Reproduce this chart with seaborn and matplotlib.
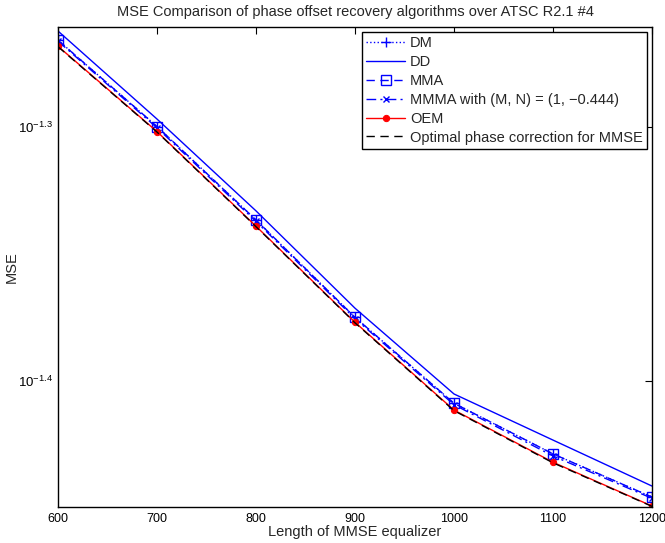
import numpy as np
import pandas as pd
import matplotlib
matplotlib.use("Agg")
import matplotlib.pyplot as plt
import seaborn as sns
from matplotlib.ticker import FixedLocator, FixedFormatter, NullLocator

sns.set_style("white")
plt.rcParams['font.family'] = ['Liberation Sans', 'DejaVu Sans']
plt.rcParams['mathtext.fontset'] = 'custom'
plt.rcParams['mathtext.rm'] = 'Liberation Sans'

lengths = [600, 700, 800, 900, 1000, 1100, 1200]
mse_dm = [0.05422, 0.05014, 0.04607, 0.04218, 0.03902, 0.03727, 0.03584]
mse_dd = [0.05467, 0.05048, 0.04645, 0.04253, 0.03935, 0.03774, 0.03620]
mse_mma = [0.05422, 0.05014, 0.04607, 0.04218, 0.03902, 0.03727, 0.03584]
mse_mmma = [0.05417, 0.05008, 0.04601, 0.04213, 0.03897, 0.03720, 0.03580]
mse_oem = [0.05392, 0.04991, 0.04581, 0.04199, 0.03878, 0.03699, 0.03555]
mse_opt = [0.05390, 0.04989, 0.04579, 0.04197, 0.03876, 0.03697, 0.03554]

labels = ['DM', 'DD', 'MMA', 'MMMA with (M, N) = (1, \u22120.444)', 'OEM',
          'Optimal phase correction for MMSE']

fig = plt.figure(figsize=(6.65, 5.43), dpi=100)
ax = fig.add_axes([58/665, 1-507/543, (652-58)/665, (507-27)/543])

blue = '#0000ff'
series = [
    (mse_dm, dict(color=blue, linestyle=':', marker='+', markersize=7, mec=blue, mew=1.0, lw=1.0)),
    (mse_dd, dict(color=blue, linestyle='-', marker=None, lw=1.0)),
    (mse_mma, dict(color=blue, linestyle=(0, (6, 4)), marker='s', markersize=7, mfc='none', mec=blue, mew=1.0, lw=1.0)),
    (mse_mmma, dict(color=blue, linestyle=(0, (7, 3, 1.5, 3)), marker='x', markersize=4, mec=blue, mew=1.0, lw=1.0)),
    (mse_oem, dict(color='red', linestyle='-', marker='o', markersize=4.5, mec='red', mfc='red', lw=1.0)),
    (mse_opt, dict(color='black', linestyle=(0, (6, 4)), marker=None, lw=1.0)),
]

for (vals, kw), lab in zip(series, labels):
    df = pd.DataFrame({'len': lengths, 'mse': vals})
    sns.lineplot(data=df, x='len', y='mse', ax=ax, label=lab, **kw)

ax.set_yscale('log')
ax.set_xlim(600, 1200)
ax.set_ylim(0.03552, 0.05487)
ax.set_xticks(lengths)
ax.set_xticklabels([str(v) for v in lengths])
ax.yaxis.set_major_locator(FixedLocator([10**-1.4, 10**-1.3]))
ax.yaxis.set_major_formatter(FixedFormatter([r'$10^{-1.4}$', r'$10^{-1.3}$']))
ax.yaxis.set_minor_locator(NullLocator())
ax.tick_params(direction='in', top=True, right=True, length=5, width=0.8,
               labelsize=9.5, colors='black', pad=4)
ax.tick_params(axis='x', labelsize=9)
for s in ax.spines.values():
    s.set_color('black')
    s.set_linewidth(1.0)

ax.set_xlabel('Length of MMSE equalizer', fontsize=10.5, labelpad=0)
ax.set_ylabel('MSE', fontsize=10.5)
ax.yaxis.set_label_coords(-0.066, 0.5)
ax.set_title('MSE Comparison of phase offset recovery algorithms over ATSC R2.1 #4',
             fontsize=10.5, pad=8)

leg = ax.legend(loc='upper right', bbox_to_anchor=(1.0, 1.0), borderaxespad=0.35,
                fontsize=10.5, handlelength=2.7, handletextpad=0.3, labelspacing=0.33,
                borderpad=0.3, fancybox=False, framealpha=1.0)
leg.get_frame().set_edgecolor('black')
leg.get_frame().set_linewidth(1.0)

fig.savefig('out.png', dpi=100)
